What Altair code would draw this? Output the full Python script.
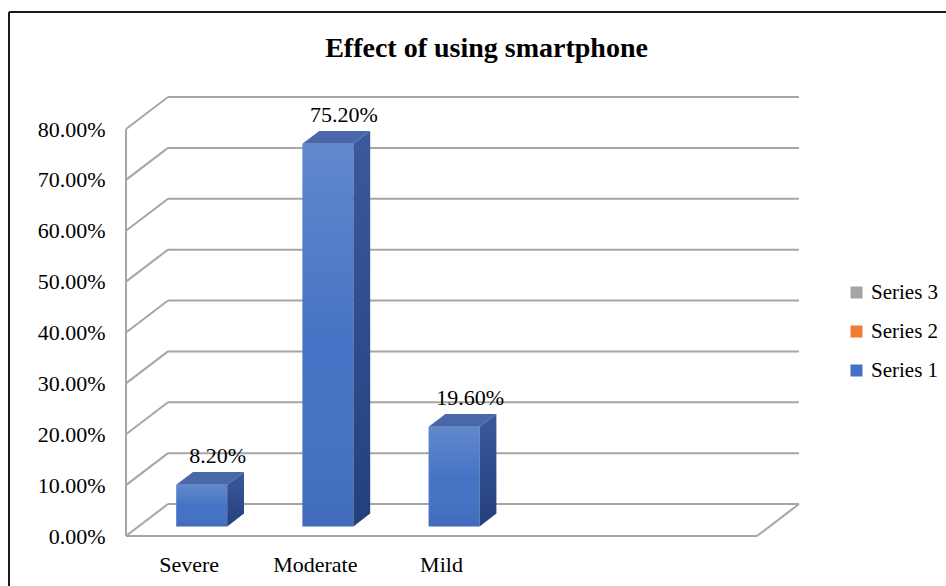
import altair as alt
import pandas as pd

# ---- data ----
categories = ["Severe", "Moderate", "Mild"]
values = [0.082, 0.752, 0.196]
series_names = ["Series 3", "Series 2", "Series 1"]
series_colors = ["#A5A5A5", "#ED7D31", "#4472C4"]
tick_values = [0.0, 0.1, 0.2, 0.3, 0.4, 0.5, 0.6, 0.7, 0.8]
n_slots = 5  # category slots along the floor

# ---- layout (pixels) ----
W, H = 937, 574            # plot area
AX_LEFT, AX_BOTTOM = 117, 524   # front-left corner of the floor inside the plot
PX_PER_SLOT = 126.2
PX_PER_UNIT = 508.75       # pixels per 100%
DEPTH_DX_PX, DEPTH_DY_PX = 42, 32

DX = DEPTH_DX_PX / PX_PER_SLOT
DY = DEPTH_DY_PX / PX_PER_UNIT
x_dom = [-AX_LEFT / PX_PER_SLOT, (W - AX_LEFT) / PX_PER_SLOT]
y_dom = [-(H - AX_BOTTOM) / PX_PER_UNIT, AX_BOTTOM / PX_PER_UNIT]

FONT = "Liberation Serif"
GRID = "#A6A6A6"

xs = alt.Scale(domain=x_dom, nice=False, zero=False)
ys = alt.Scale(domain=y_dom, nice=False, zero=False)


def X(field):
    return alt.X(field, type="quantitative", scale=xs, axis=None)


def Y(field):
    return alt.Y(field, type="quantitative", scale=ys, stack=None,
                 axis=alt.Axis(values=tick_values, format=".2%", title=None,
                               domain=False, ticks=False, tickSize=0, grid=False,
                               offset=-AX_LEFT, labelPadding=21,
                               labelFont=FONT, labelFontSize=22,
                               labelColor="#000000"))


# ---- bar geometry (box occupies depth 0.3 .. 0.7) ----
HALF_W = 25.5 / PX_PER_SLOT
D0, D1 = 0.3, 0.7
dd, ddy = (D1 - D0) * DX, (D1 - D0) * DY

front_rows, top_rows, side_rows, label_rows = [], [], [], []
for i, (cat, v) in enumerate(zip(categories, values)):
    c = i + 0.5
    xl = c - HALF_W + D0 * DX
    xr = c + HALF_W + D0 * DX
    yb = D0 * DY
    yt = v + D0 * DY
    front_rows.append(dict(cat=cat, series="Series 1", x=xl, x2=xr, y=yb, y2=yt))
    for px, lo, hi in [(xl, yt, yt), (xl + dd, yt, yt + ddy),
                       (xr, yt, yt + ddy), (xr + dd, yt + ddy, yt + ddy)]:
        top_rows.append(dict(cat=cat, x=px, y=lo, y2=hi))
    for px, lo, hi in [(xr, yb, yt), (xr + dd, yb + ddy, yt + ddy)]:
        side_rows.append(dict(cat=cat, x=px, y=lo, y2=hi))
    label_rows.append(dict(cat=cat, x=c + 0.5 * DX + 0.06, y=v + D1 * DY,
                           text=f"{v * 100:.2f}%"))

front_df = pd.DataFrame(front_rows)
top_df = pd.DataFrame(top_rows)
side_df = pd.DataFrame(side_rows)
label_df = pd.DataFrame(label_rows)
cat_df = pd.DataFrame(dict(cat=categories, x=[i + 0.5 for i in range(len(categories))],
                           y=[0.0] * len(categories)))

# ---- walls and floor ----
wall_rows = []
for t in tick_values:
    wall_rows.append(dict(x=DX, x2=n_slots + DX, y=t + DY, y2=t + DY))   # back wall
    wall_rows.append(dict(x=0.0, x2=DX, y=t, y2=t + DY))                 # side wall
wall_rows.append(dict(x=0.0, x2=0.0, y=0.0, y2=tick_values[-1]))          # front axis line
wall_rows.append(dict(x=0.0, x2=float(n_slots), y=0.0, y2=0.0))           # floor front edge
wall_rows.append(dict(x=float(n_slots), x2=n_slots + DX, y=0.0, y2=DY))   # floor right edge
wall_df = pd.DataFrame(wall_rows)

walls = alt.Chart(wall_df).mark_rule(color=GRID, strokeWidth=2).encode(
    x=X("x"), x2="x2", y=Y("y"), y2="y2")

front = alt.Chart(front_df).mark_rect().encode(
    x=X("x"), x2="x2", y=Y("y"), y2="y2",
    color=alt.Color("series:N",
                    scale=alt.Scale(domain=series_names, range=series_colors),
                    legend=alt.Legend(title=None, orient="none", legendX=837, legendY=270,
                                      symbolType="square", symbolSize=144,
                                      symbolStrokeWidth=0, labelFont=FONT,
                                      labelFontSize=21, labelColor="#000000",
                                      labelOffset=4, rowPadding=17, padding=0)))

front_shade = alt.Chart(front_df).mark_rect(
    color=alt.Gradient(gradient="linear",
                       stops=[alt.GradientStop(color="rgba(255,255,255,0.16)", offset=0),
                              alt.GradientStop(color="rgba(255,255,255,0.0)", offset=0.55),
                              alt.GradientStop(color="rgba(0,0,40,0.06)", offset=1)],
                       x1=0, x2=0, y1=0, y2=1)
).encode(x=X("x"), x2="x2", y=Y("y"), y2="y2")

top = alt.Chart(top_df).mark_area(color="#4968AA", opacity=1).encode(
    x=X("x"), y=Y("y"), y2="y2", detail="cat:N")

side = alt.Chart(side_df).mark_area(
    opacity=1,
    color=alt.Gradient(gradient="linear",
                       stops=[alt.GradientStop(color="#3A5A9E", offset=0),
                              alt.GradientStop(color="#243F7C", offset=1)],
                       x1=0, x2=0, y1=0, y2=1)
).encode(x=X("x"), y=Y("y"), y2="y2", detail="cat:N")

value_labels = alt.Chart(label_df).mark_text(
    font=FONT, fontSize=22, color="#000000", align="center", baseline="alphabetic", dy=-9
).encode(x=X("x"), y=Y("y"), text="text:N")

cat_labels = alt.Chart(cat_df).mark_text(
    font=FONT, fontSize=22, color="#000000", align="center", baseline="alphabetic", dy=36
).encode(x=X("x"), y=Y("y"), text="cat:N")

# chart frame (top and left edges)
frame_top = alt.Chart(cat_df).mark_rule(color="#1A1A1A", strokeWidth=2).encode(
    x=alt.value(0), x2=alt.value(W), y=alt.value(0))
frame_left = alt.Chart(cat_df).mark_rule(color="#1A1A1A", strokeWidth=2).encode(
    x=alt.value(0), y=alt.value(0), y2=alt.value(H))

chart = alt.layer(
    walls, front, front_shade, top, side, value_labels, cat_labels, frame_top, frame_left
).properties(
    width=W, height=H,
    autosize=alt.AutoSizeParams(type="none"),
    padding={"left": 9, "top": 12, "right": 0, "bottom": 0},
    title=alt.TitleParams("Effect of using smartphone", font=FONT, fontSize=28,
                          fontWeight="bold", color="#000000", anchor="middle",
                          offset=-52, dx=9),
).configure_view(stroke=None).configure(background="#FFFFFF")

chart.save("out.html", embed_options={"renderer": "svg", "actions": False})
